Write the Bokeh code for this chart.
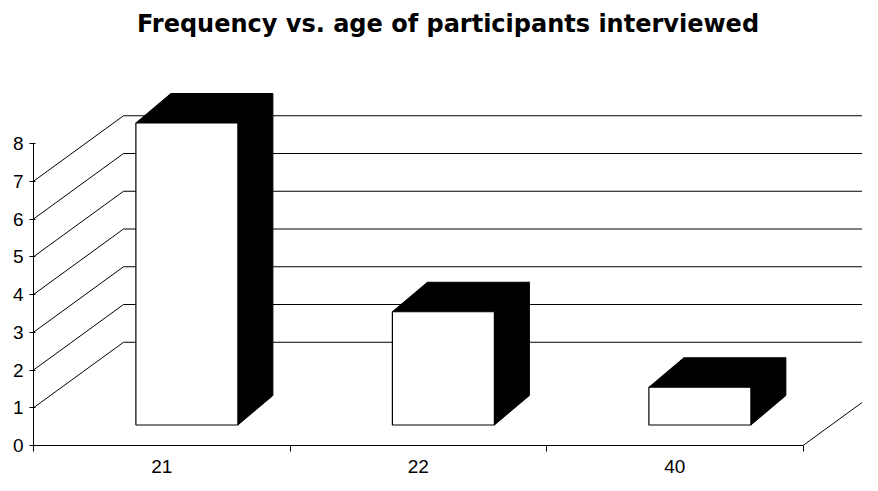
from bokeh.plotting import figure
from bokeh.models import Range1d, LinearAxis, FixedTicker
from bokeh.embed import file_html
from bokeh.resources import INLINE

# ---- data ----
categories = ["21", "22", "40"]
frequency = [8, 3, 1]
value_ticks = [0, 1, 2, 3, 4, 5, 6, 7, 8]
wall_gridlines = [1, 2, 3, 4, 5, 6, 7]
title_text = "Frequency vs. age of participants interviewed"

# ---- layout constants ----
W, H = 862, 475
BL, BB, BT, BR = 33, 30, 42, 0
PX_CAT = 256.5   # pixels per category
PX_VAL = 37.75   # pixels per value unit
x_end = (W - BL - BR) / PX_CAT
y_end = (H - BB - BT) / PX_VAL

# 3D geometry (data units)
DX = 90 / PX_CAT          # wall depth, x
DY = 65.5 / PX_VAL        # wall depth, y
SHIFT_X = 0.098           # bar front face offset into depth
SHIFT_Y = 20.5 / PX_VAL
BW = 102 / PX_CAT         # bar width
BDX = 35 / PX_CAT         # bar depth x
BDY = 29.5 / PX_VAL       # bar depth y

p = figure(width=W, height=H, x_range=Range1d(0, x_end), y_range=Range1d(0, y_end),
           output_backend="svg", toolbar_location=None,
           min_border_left=BL, min_border_bottom=BB, min_border_top=BT, min_border_right=BR,
           x_axis_type=None, y_axis_type=None)
p.outline_line_color = None
p.background_fill_color = "white"
p.border_fill_color = "white"

p.title.text = title_text
p.title.align = "center"
p.title.text_font = "DejaVu Sans"
p.title.text_font_style = "bold"
p.title.text_font_size = "24px"
p.title.text_color = "black"
p.title.standoff = 10

# value axis
yaxis = LinearAxis(ticker=FixedTicker(ticks=value_ticks), bounds=(0, value_ticks[-1]))
yaxis.axis_line_color = "black"
yaxis.axis_line_width = 1
yaxis.major_tick_line_color = "black"
yaxis.major_tick_in = 2
yaxis.major_tick_out = 4
yaxis.minor_tick_line_color = None
yaxis.major_label_text_font = "Liberation Sans"
yaxis.major_label_text_font_size = "19px"
yaxis.major_label_text_color = "black"
yaxis.major_label_standoff = 6
p.add_layout(yaxis, "left")

# category axis
n = len(categories)
centers = [i + 0.5 for i in range(n)]
xaxis = LinearAxis(ticker=FixedTicker(ticks=centers, minor_ticks=list(range(n + 1))),
                   bounds=(0, n),
                   major_label_overrides={c: lab for c, lab in zip(centers, categories)})
xaxis.axis_line_color = "black"
xaxis.major_tick_in = 0
xaxis.major_tick_out = 0
xaxis.major_tick_line_color = None
xaxis.minor_tick_in = 0
xaxis.minor_tick_out = 6
xaxis.minor_tick_line_color = "black"
xaxis.major_label_text_font = "Liberation Sans"
xaxis.major_label_text_font_size = "19px"
xaxis.major_label_text_color = "black"
xaxis.major_label_standoff = 8
p.add_layout(xaxis, "below")

# side wall + back wall gridlines
gx, gy = [], []
for v in wall_gridlines:
    gx.append([0, DX, n + DX + 1])
    gy.append([v, v + DY, v + DY])
p.multi_line(gx, gy, line_color="black", line_width=1)
# floor right edge
p.line([n, n + DX], [0, DY], line_color="black", line_width=1)

# bars
fx0, fx1, fy0, fy1 = [], [], [], []
top_xs, top_ys, side_xs, side_ys = [], [], [], []
for i, v in enumerate(frequency):
    x0 = i + 0.5 + SHIFT_X - BW / 2
    x1 = x0 + BW
    y0 = SHIFT_Y
    y1 = SHIFT_Y + v
    fx0.append(x0); fx1.append(x1); fy0.append(y0); fy1.append(y1)
    top_xs.append([x0, x1, x1 + BDX, x0 + BDX])
    top_ys.append([y1, y1, y1 + BDY, y1 + BDY])
    side_xs.append([x1, x1 + BDX, x1 + BDX, x1])
    side_ys.append([y1, y1 + BDY, y0 + BDY, y0])

p.patches(top_xs, top_ys, fill_color="black", line_color="black")
p.patches(side_xs, side_ys, fill_color="black", line_color="black")
p.quad(left=fx0, right=fx1, bottom=fy0, top=fy1, fill_color="white", line_color="black", line_width=1.2)

open("out.html", "w").write(file_html(p, INLINE))
